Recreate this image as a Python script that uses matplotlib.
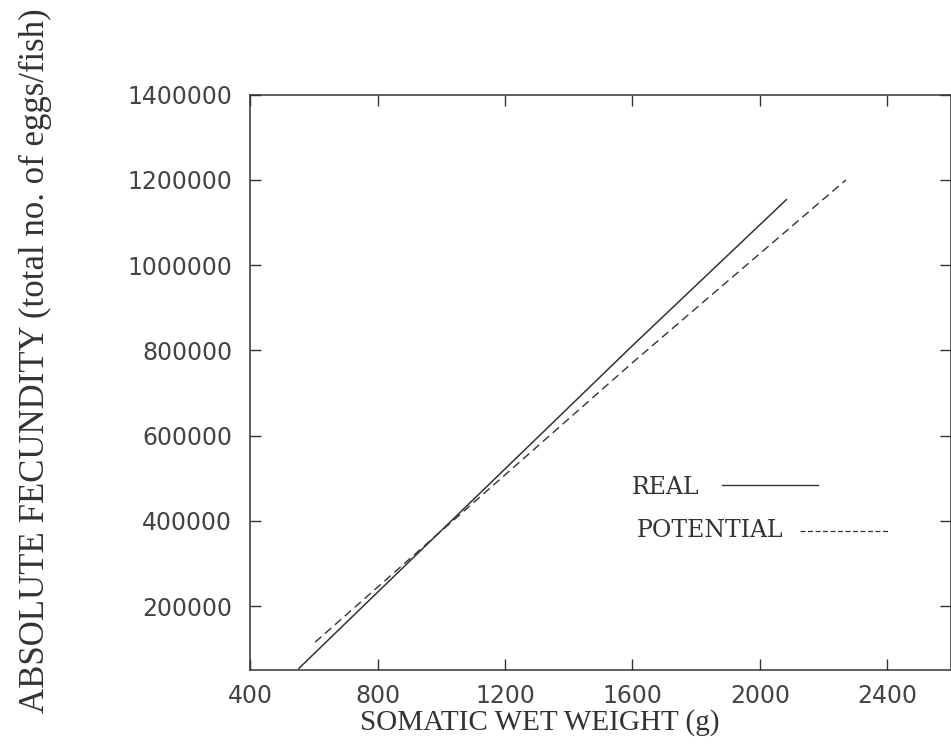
import matplotlib
matplotlib.use("Agg")
import matplotlib.pyplot as plt

# Data
real_x = [551, 1000, 1600, 2085]
real_y = [52000, 377000, 811000, 1155000]
pot_x = [604, 1000, 1600, 2270]
pot_y = [115000, 376000, 771000, 1200000]

x_ticks = [400, 800, 1200, 1600, 2000, 2400]
y_ticks = [200000, 400000, 600000, 800000, 1000000, 1200000, 1400000]

ink = "#333333"

fig = plt.figure(figsize=(9.51, 7.46), dpi=100)
ax = fig.add_axes([0.263, 0.102, 0.737, 0.771])

ax.plot(real_x, real_y, color=ink, lw=1.1, solid_capstyle="butt")
ax.plot(pot_x, pot_y, color=ink, lw=1.0, dashes=(6, 3.5))

ax.set_xlim(400, 2600)
ax.set_ylim(50000, 1400000)
ax.set_xticks(x_ticks)
ax.set_yticks(y_ticks)
ax.set_xticklabels([str(v) for v in x_ticks])
ax.set_yticklabels([str(v) for v in y_ticks])

for s in ax.spines.values():
    s.set_color(ink)
    s.set_linewidth(1.1)

ax.tick_params(axis="both", which="both", direction="in", length=8, width=1.0,
               color=ink, top=True, right=True, labelcolor="#444444", labelsize=17)
ax.tick_params(axis="y", pad=13)
ax.tick_params(axis="x", pad=10)
for lab in ax.get_xticklabels() + ax.get_yticklabels():
    lab.set_family("DejaVu Sans")

fig.text(0.568, 0.032, "SOMATIC WET WEIGHT (g)", family="Liberation Serif",
         fontsize=21, color="#333333", ha="center", va="center")
fig.text(0.037, 0.517, "ABSOLUTE FECUNDITY (total no. of eggs/fish)",
         family="Liberation Serif", fontsize=25, color="#333333",
         ha="center", va="center", rotation=90)

# Legend drawn as text followed by line sample
ax.text(0.545, 0.318, "REAL", transform=ax.transAxes, family="DejaVu Serif",
        fontsize=17, color="#333333", va="center", ha="left")
ax.plot([0.673, 0.810], [0.322, 0.322], transform=ax.transAxes, color=ink, lw=1.0)
ax.text(0.552, 0.243, "POTENTIAL", transform=ax.transAxes, family="DejaVu Serif",
        fontsize=17, color="#333333", va="center", ha="left")
ax.plot([0.785, 0.910], [0.241, 0.241], transform=ax.transAxes, color=ink, lw=0.9,
        dashes=(4, 2))

fig.savefig("out.png", dpi=100)
